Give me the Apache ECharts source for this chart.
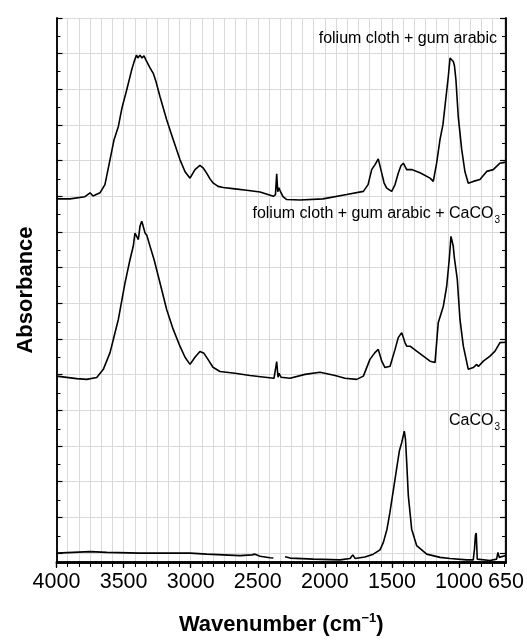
<!DOCTYPE html>
<html>
<head>
<meta charset="utf-8">
<script src="https://cdn.jsdelivr.net/npm/echarts@6/dist/echarts.min.js"></script>
<style>
  html, body { margin: 0; padding: 0; background: #fff; }
  #chart { width: 527px; height: 641px; }
</style>
</head>
<body>
<div id="chart"></div>
<script>
// wavenumber (cm-1) vs absorbance, each trace, offsets below
const wnMajor = [4000, 3500, 3000, 2500, 2000, 1500, 1000];
const wnLabels = [4000, 3500, 3000, 2500, 2000, 1500, 1000, 650];
const absMajor = [0.25, 1.25, 2.25, 3.25, 4.25, 5.25, 6.25, 7.25, 8.25, 9.25, 10.25, 11.25, 12.25, 13.25, 14.25, 15.25];
const absMinor = [0.75, 1.75, 2.75, 3.75, 4.75, 5.75, 6.75, 7.75, 8.75, 9.75, 10.75, 11.75, 12.75, 13.75, 14.75];

const offsetGum = 10;
const offsetGumCaco3 = 5;
const offsetCaco3 = 0;

const gumArabic = [
    [4000, 0.18], [3899, 0.18], [3788, 0.24], [3750, 0.35], [3728, 0.26], [3676, 0.35], [3639, 0.58],
    [3601, 1.28], [3571, 1.84], [3539, 2.21], [3512, 2.73], [3477, 3.23], [3440, 3.79], [3422, 4.02],
    [3404, 4.21], [3393, 4.13], [3378, 4.21], [3363, 4.13], [3348, 4.19], [3333, 4.07], [3303, 3.85],
    [3279, 3.70], [3258, 3.46], [3229, 3.05], [3179, 2.40], [3130, 1.84], [3080, 1.28], [3042, 0.94],
    [3005, 0.76], [2968, 1.00], [2931, 1.12], [2908, 1.05], [2881, 0.90], [2856, 0.74], [2831, 0.62],
    [2796, 0.53], [2757, 0.50], [2670, 0.46], [2583, 0.42], [2483, 0.37], [2384, 0.25], [2368, 0.30],
    [2359, 0.88], [2351, 0.38], [2343, 0.49], [2334, 0.41], [2312, 0.24], [2284, 0.16], [2185, 0.15],
    [2014, 0.18], [1837, 0.30], [1713, 0.39], [1678, 0.58], [1651, 1.00], [1626, 1.14], [1602, 1.30],
    [1576, 0.90], [1559, 0.63], [1539, 0.48], [1502, 0.39], [1477, 0.58], [1453, 0.90], [1433, 1.11],
    [1415, 1.18], [1390, 1.00], [1353, 1.00], [1291, 0.91], [1216, 0.76], [1192, 0.67], [1167, 1.18],
    [1142, 1.84], [1120, 2.26], [1105, 2.77], [1080, 3.61], [1067, 4.13], [1056, 4.17], [1043, 4.03],
    [1034, 3.91], [1023, 3.51], [1006, 2.49], [980, 1.56], [956, 0.94], [931, 0.62], [894, 0.67],
    [844, 0.72], [794, 0.95], [745, 1.00], [695, 1.18], [652, 1.21]
];

const gumArabicCaco3 = [
    [4000, 0.21], [3849, 0.14], [3775, 0.12], [3700, 0.17], [3651, 0.40], [3601, 0.87], [3571, 1.32],
    [3539, 1.80], [3489, 2.83], [3452, 3.48], [3428, 3.85], [3415, 4.22], [3402, 4.27], [3390, 4.04],
    [3378, 4.41], [3365, 4.55], [3355, 4.43], [3340, 4.22], [3326, 4.15], [3303, 3.85], [3273, 3.48],
    [3229, 2.83], [3179, 2.08], [3130, 1.52], [3080, 1.05], [3042, 0.74], [3005, 0.54], [2968, 0.74],
    [2931, 0.90], [2901, 0.85], [2871, 0.68], [2834, 0.46], [2782, 0.34], [2670, 0.29], [2558, 0.23],
    [2446, 0.18], [2379, 0.15], [2359, 0.62], [2349, 0.18], [2342, 0.29], [2327, 0.18], [2260, 0.15],
    [2148, 0.26], [2036, 0.32], [1924, 0.23], [1850, 0.15], [1763, 0.12], [1713, 0.21], [1664, 0.68],
    [1627, 0.87], [1602, 0.96], [1576, 0.63], [1552, 0.45], [1514, 0.49], [1477, 0.96], [1453, 1.29],
    [1427, 1.43], [1403, 1.15], [1390, 1.05], [1365, 1.05], [1316, 0.91], [1216, 0.63], [1179, 0.59],
    [1155, 1.71], [1142, 1.66], [1117, 2.17], [1092, 2.73], [1073, 3.48], [1060, 4.13], [1052, 4.09],
    [1043, 3.85], [1035, 3.53], [1025, 3.53], [1013, 2.92], [993, 1.80], [968, 1.05], [931, 0.40],
    [894, 0.45], [868, 0.54], [856, 0.48], [819, 0.63], [769, 0.77], [732, 0.91], [695, 1.15], [652, 1.16]
];

// CaCO3 trace has a gap round the CO2 band
const caco3High = [
    [4000, 0.25], [3750, 0.29], [3626, 0.27], [3378, 0.25], [3005, 0.25], [2881, 0.22], [2632, 0.18],
    [2543, 0.20], [2521, 0.22], [2483, 0.16], [2409, 0.12], [2384, 0.11]
];
const caco3Low = [
    [2297, 0.15], [2258, 0.11], [2086, 0.08], [1887, 0.06], [1812, 0.10], [1792, 0.20], [1775, 0.10],
    [1701, 0.14], [1639, 0.22], [1589, 0.34], [1564, 0.55], [1537, 0.92], [1515, 1.39], [1477, 2.32],
    [1445, 3.11], [1427, 3.35], [1408, 3.67], [1399, 3.44], [1390, 2.79], [1378, 1.86], [1353, 0.92],
    [1316, 0.46], [1241, 0.22], [1142, 0.13], [1067, 0.10], [943, 0.06], [894, 0.06], [885, 0.36],
    [878, 0.74], [872, 0.81], [864, 0.08], [770, 0.04], [720, 0.08], [710, 0.27], [700, 0.13], [652, 0.18]
];

const FONT = '"Liberation Sans", Arial, sans-serif';
const wnMin = 650, wnMax = 4000, absMin = 0, absMax = 15.25;

// grid lines every 1/6 of a major step, as in the original
const wnMinor = [];
for (let k = 1; k <= 40; k++)
    wnMinor.push(4000 - k * 500 / 6);

const shift = function (arr, off) {
    return arr.map(function (p) { return [p[0], +(p[1] + off).toFixed(3)]; });
};

const gridRect = {left: 56.5, right: 21, top: 18, bottom: 78};

const xBase = {
    type: 'value', min: wnMin, max: wnMax, inverse: true,
    axisLine: {show: true, lineStyle: {color: '#000', width: 1.5}},
    axisLabel: {show: false},
    splitLine: {show: false}
};
const yBase = {
    type: 'value', min: absMin, max: absMax,
    axisLine: {show: true, lineStyle: {color: '#000', width: 1.5}},
    axisLabel: {show: false},
    splitLine: {show: false}
};

const lineSeries = function (data, off) {
    return {
        type: 'line', xAxisIndex: 0, yAxisIndex: 0,
        data: shift(data, off), showSymbol: false, symbol: 'none',
        lineStyle: {color: '#000', width: 1.6}, z: 5, animation: false
    };
};

const chart = echarts.init(document.getElementById('chart'), null, {renderer: 'canvas'});
chart.setOption({
    backgroundColor: '#fff',
    animation: false,
    grid: [Object.assign({}, gridRect), Object.assign({}, gridRect)],
    xAxis: [
        Object.assign({}, xBase, {
            gridIndex: 0, position: 'bottom',
            axisTick: {show: true, inside: false, length: 5, customValues: wnMajor, lineStyle: {color: '#000', width: 1.2}},
            axisLabel: {
                show: true, customValues: wnLabels, margin: 9, color: '#000', fontSize: 21.5, fontFamily: FONT,
                formatter: function (v) { return String(v); }
            },
            name: 'Wavenumber (cm{sup|\u22121})', nameLocation: 'middle', nameGap: 50,
            nameTextStyle: {
                color: '#000', fontSize: 22, fontWeight: 'bold', fontFamily: FONT,
                rich: {sup: {fontSize: 13, fontWeight: 'bold', fontFamily: FONT, color: '#000', verticalAlign: 'top', lineHeight: 26}}
            }
        }),
        Object.assign({}, xBase, {
            gridIndex: 0, position: 'top',
            axisTick: {show: true, inside: true, length: 6, customValues: wnMajor, lineStyle: {color: '#000', width: 1.2}}
        }),
        Object.assign({}, xBase, {
            gridIndex: 1, position: 'bottom',
            axisTick: {show: true, inside: false, length: 3, customValues: wnMinor, lineStyle: {color: '#000', width: 1}},
            splitLine: {show: true, lineStyle: {color: '#d9d9d9', width: 1}}
        }),
        Object.assign({}, xBase, {
            gridIndex: 1, position: 'top',
            axisTick: {show: true, inside: true, length: 4, customValues: wnMinor, lineStyle: {color: '#000', width: 1}}
        })
    ],
    yAxis: [
        Object.assign({}, yBase, {
            gridIndex: 0, position: 'left',
            axisTick: {show: true, inside: true, length: 6, customValues: absMajor, lineStyle: {color: '#000', width: 1.2}},
            splitLine: {show: true, lineStyle: {color: '#d9d9d9', width: 1}},
            name: 'Absorbance', nameLocation: 'middle', nameGap: 20,
            nameTextStyle: {color: '#000', fontSize: 22, fontWeight: 'bold', fontFamily: FONT}
        }),
        Object.assign({}, yBase, {
            gridIndex: 0, position: 'right',
            axisTick: {show: true, inside: true, length: 6, customValues: absMajor, lineStyle: {color: '#000', width: 1.2}}
        }),
        Object.assign({}, yBase, {
            gridIndex: 1, position: 'left',
            axisTick: {show: true, inside: true, length: 4, customValues: absMinor, lineStyle: {color: '#000', width: 1}}
        }),
        Object.assign({}, yBase, {
            gridIndex: 1, position: 'right',
            axisTick: {show: true, inside: true, length: 4, customValues: absMinor, lineStyle: {color: '#000', width: 1}}
        })
    ],
    series: [
        lineSeries(gumArabic, offsetGum),
        lineSeries(gumArabicCaco3, offsetGumCaco3),
        lineSeries(caco3High, offsetCaco3),
        lineSeries(caco3Low, offsetCaco3)
    ],
    graphic: [
        {
            type: 'text', x: 497, y: 39, z: 10,
            style: {text: 'folium cloth + gum arabic', fill: '#000', font: '16px ' + FONT, align: 'right', verticalAlign: 'middle'}
        },
        {
            type: 'text', x: 500, y: 214, z: 10,
            style: {
                text: 'folium cloth + gum arabic + CaCO{sub|3}', fill: '#000', font: '16px ' + FONT,
                align: 'right', verticalAlign: 'middle',
                rich: {sub: {fontSize: 10, fontFamily: FONT, fill: '#000', padding: [12, 0, 0, 1]}}
            }
        },
        {
            type: 'text', x: 500, y: 421, z: 10,
            style: {
                text: 'CaCO{sub|3}', fill: '#000', font: '16px ' + FONT,
                align: 'right', verticalAlign: 'middle',
                rich: {sub: {fontSize: 10, fontFamily: FONT, fill: '#000', padding: [12, 0, 0, 1]}}
            }
        }
    ]
});
</script>
</body>
</html>
